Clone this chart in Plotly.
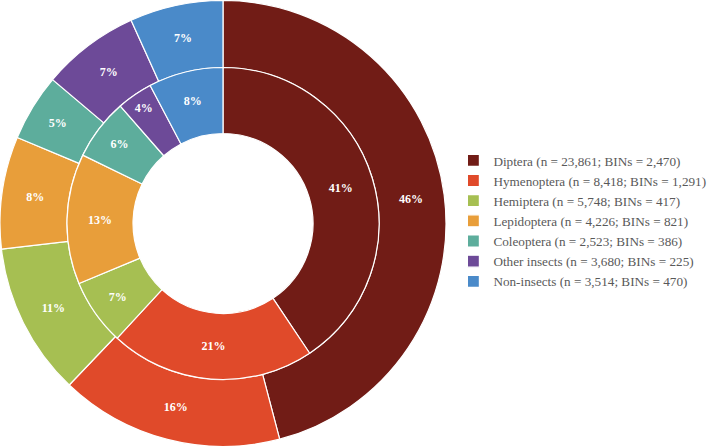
import plotly.graph_objects as go

groups = ["Diptera", "Hymenoptera", "Hemiptera", "Lepidoptera", "Coleoptera", "Other insects", "Non-insects"]
specimens = [23861, 8418, 5748, 4226, 2523, 3680, 3514]
bins = [2470, 1291, 417, 821, 386, 225, 470]
# percentage labels as printed on the reference chart
specimen_pct = ["46%", "16%", "11%", "8%", "5%", "7%", "7%"]
bin_pct = ["41%", "21%", "7%", "13%", "6%", "4%", "8%"]
colors = ["#711C16", "#E04A2A", "#A6BF52", "#E89E3A", "#5DAD9C", "#6D4A98", "#4A8AC9"]

labels = [f"{g} (n = {n:,}; BINs = {b:,})" for g, n, b in zip(groups, specimens, bins)]

W, H = 709, 447
cx, cy = 223, 223.5
R_out, R_mid, R_hole = 223, 156, 90

font_txt = dict(family="Liberation Serif", size=12, color="white")

fig = go.Figure()
fig.add_trace(go.Pie(
    labels=labels, values=specimens, text=specimen_pct, sort=False,
    direction="clockwise", rotation=0,
    hole=R_mid / R_out,
    domain=dict(x=[(cx - R_out) / W, (cx + R_out) / W], y=[(cy - R_out) / H, (cy + R_out) / H]),
    marker=dict(colors=colors, line=dict(color="white", width=1.2)),
    texttemplate="<b>%{text}</b>", textposition="inside",
    insidetextorientation="horizontal", textfont=font_txt,
    hoverinfo="label+value+percent",
))
fig.add_trace(go.Pie(
    labels=labels, values=bins, text=bin_pct, sort=False,
    direction="clockwise", rotation=0,
    hole=R_hole / R_mid,
    domain=dict(x=[(cx - R_mid) / W, (cx + R_mid) / W], y=[(cy - R_mid) / H, (cy + R_mid) / H]),
    marker=dict(colors=colors, line=dict(color="white", width=1.2)),
    texttemplate="<b>%{text}</b>", textposition="inside",
    insidetextorientation="horizontal", textfont=font_txt,
    hoverinfo="label+value+percent", showlegend=False,
))

fig.update_layout(
    width=W, height=H,
    margin=dict(l=0, r=0, t=0, b=0, autoexpand=False),
    paper_bgcolor="white", plot_bgcolor="white",
    uniformtext=dict(minsize=11, mode="show"),
    legend=dict(
        x=0.6395, y=0.675, xanchor="left", yanchor="top",
        font=dict(family="Liberation Serif", size=13.2, color="#595959"),
        itemwidth=30, bgcolor="rgba(0,0,0,0)",
    ),
)

fig.write_html("out.html", config={"displayModeBar": False},
               post_script="document.body.style.margin='0px';")
